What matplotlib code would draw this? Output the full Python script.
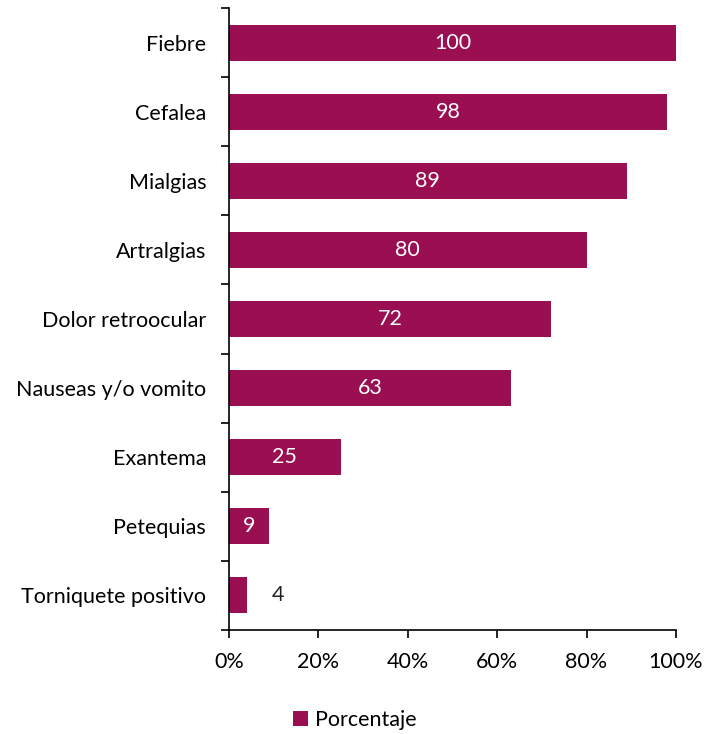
import matplotlib.pyplot as plt
import numpy as np

plt.rcParams['font.family'] = ['Lato', 'DejaVu Sans']

categories = ["Fiebre", "Cefalea", "Mialgias", "Artralgias", "Dolor retroocular",
              "Nauseas y/o vomito", "Exantema", "Petequias", "Torniquete positivo"]
values = [100, 98, 89, 80, 72, 63, 25, 9, 4]
color = "#990F52"
fs = 15.5

fig = plt.figure(figsize=(7.07, 7.34), dpi=100)
ax = fig.add_axes([0.324, 0.1417, 0.632, 0.8473])

y = np.arange(len(categories))
bars = ax.barh(y, values, height=0.52, color=color, label="Porcentaje")
ax.set_ylim(len(categories) - 0.5, -0.5)
ax.set_xlim(0, 100)

for yi, v in zip(y, values):
    if v >= 8:
        ax.text(v / 2, yi, str(v), ha="center", va="center", color="white", fontsize=fs)
    else:
        ax.text(11, yi, str(v), ha="center", va="center", color="#222222", fontsize=fs)

ax.set_yticks(y)
ax.set_yticklabels(categories, fontsize=fs)
ax.tick_params(axis="y", length=0, pad=16.5)
ax.set_yticks(np.arange(-0.5, len(categories)), minor=True)
ax.tick_params(axis="y", which="minor", length=6, width=1.2, direction="out")

ax.set_xticks(np.arange(0, 101, 20))
ax.set_xticklabels([f"{t}%" for t in range(0, 101, 20)], fontsize=fs)
ax.tick_params(axis="x", length=6, width=1.2, direction="out", pad=10)

for s in ["top", "right"]:
    ax.spines[s].set_visible(False)
ax.spines["left"].set_linewidth(1.2)
ax.spines["bottom"].set_linewidth(1.2)

fig.legend(handles=[bars], labels=["Porcentaje"], loc="center", bbox_to_anchor=(0.502, 0.019),
           frameon=False, fontsize=fs, handlelength=0.7, handleheight=0.7, handletextpad=0.3)

fig.savefig("out.png", dpi=100)
